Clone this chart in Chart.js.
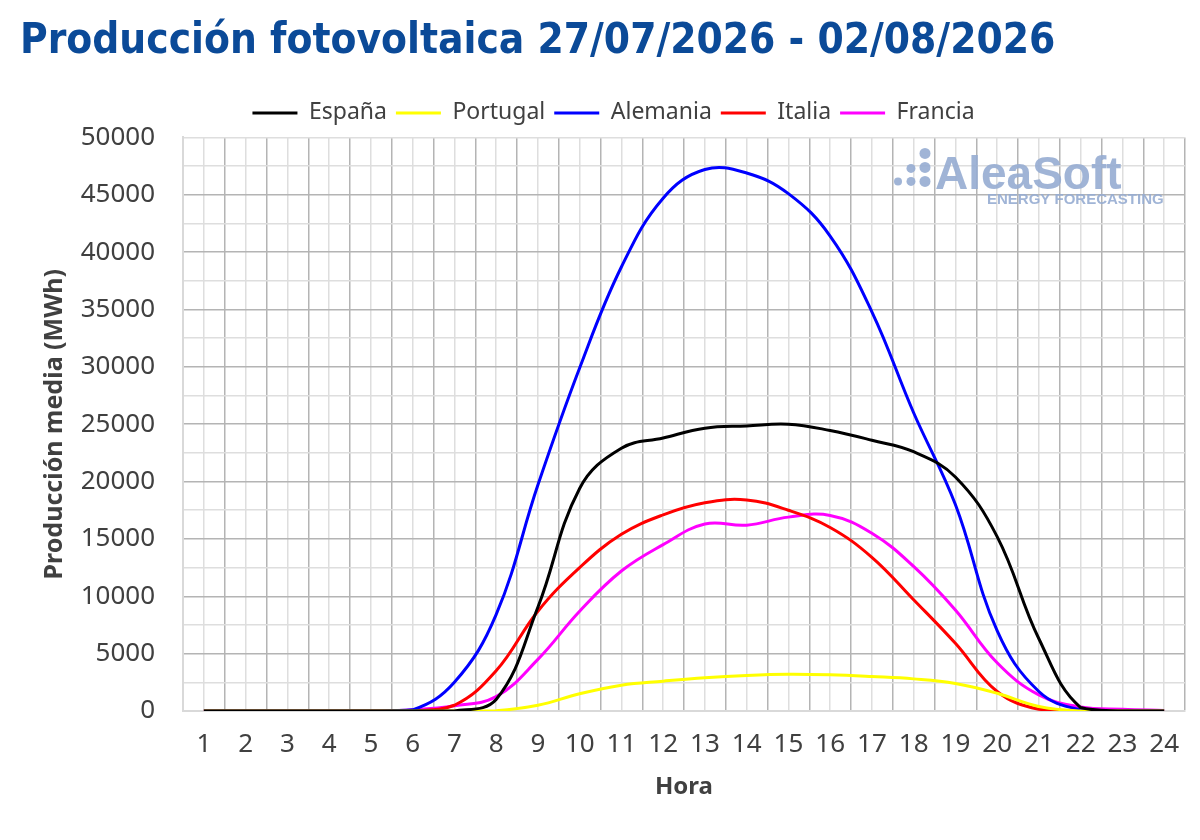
<!DOCTYPE html>
<html>
<head>
<meta charset="utf-8">
<script src="https://cdn.jsdelivr.net/npm/chart.js@4.4.1/dist/chart.umd.min.js"></script>
<style>
  html, body { margin: 0; padding: 0; background: #fff; }
  #wrap { width: 1200px; height: 840px; position: relative; }
</style>
</head>
<body>
<div id="wrap"><canvas id="myChartSolar" width="1200" height="840"></canvas></div>
<script>
const horas = [1, 2, 3, 4, 5, 6, 7, 8, 9, 10, 11, 12, 13, 14, 15, 16, 17, 18, 19, 20, 21, 22, 23, 24]

const espana = [0, 0, 0, 0, 0, 0, 0, 1000, 9050, 19400, 22900, 23800, 24650, 24850, 25000, 24450, 23600, 22600, 20400, 15200, 6300, 300, 0, 0]
const portugal = [0, 0, 0, 0, 0, 0, 0, 30, 500, 1500, 2250, 2600, 2900, 3100, 3200, 3150, 3000, 2800, 2400, 1550, 400, 0, 0, 0]
const alemania = [0, 0, 0, 0, 0, 100, 2500, 8400, 19700, 29900, 38700, 44700, 47200, 46900, 45100, 41400, 34800, 26000, 18000, 7000, 1700, 100, 0, 0]
const italia = [0, 0, 0, 0, 0, 0, 500, 3500, 8700, 12500, 15400, 17100, 18150, 18400, 17500, 16000, 13400, 9700, 5900, 1700, 150, 0, 0, 0]
const francia = [0, 0, 0, 0, 0, 100, 450, 1250, 4500, 8700, 12200, 14500, 16300, 16200, 16900, 17050, 15500, 12600, 8800, 4200, 1400, 350, 150, 50]

const yMax = 50000
const yStep = 2500

const textColor = '#404040'
const gridDark = '#b4b4b4'
const gridLight = '#dedede'
const baseFont = "'Noto Sans', sans-serif"

function serie(label, values, color) {
    return {
        label: label,
        data: horas.map((h, i) => ({ x: h, y: values[i] })),
        borderColor: color,
        backgroundColor: color,
        borderWidth: 3,
        pointRadius: 0,
        tension: 0.4,
        fill: false
    }
}

// marca de agua AleaSoft
const watermark = {
    id: 'watermark',
    beforeDatasetsDraw(chart) {
        const ctx = chart.ctx
        const a = chart.chartArea
        ctx.save()
        ctx.fillStyle = 'rgba(150,172,210,0.9)'
        const bx = a.right - 290, by = a.top
        const dots = [[3, 44, 4], [16, 44, 4.5], [16, 31, 4.5], [30, 44, 5.5], [30, 30, 5.5], [30, 16, 5.5]]
        dots.forEach(d => {
            ctx.beginPath()
            ctx.arc(bx + d[0], by + d[1], d[2], 0, Math.PI * 2)
            ctx.fill()
        })
        ctx.font = 'bold 46px "Liberation Sans", Arial, sans-serif'
        ctx.textBaseline = 'alphabetic'
        ctx.fillText('AleaSoft', bx + 40, by + 52)
        ctx.font = 'bold 15px "Liberation Sans", Arial, sans-serif'
        ctx.fillText('ENERGY FORECASTING', bx + 92, by + 67)
        ctx.restore()
    }
}

// leyenda: un poco mas de aire debajo y algo desplazada a la derecha
const legendTweak = {
    id: 'legendTweak',
    beforeInit(chart) {
        const fit = chart.legend.fit
        chart.legend.fit = function () {
            fit.bind(chart.legend)()
            this.height += 3
        }
    },
    afterLayout(chart) {
        chart.legend.left += 11
        chart.legend.right += 11
    }
}

const ctx = document.getElementById('myChartSolar')
const myChartSolar = new Chart(ctx, {
    type: 'line',
    data: {
        datasets: [
            serie('España', espana, '#000000'),
            serie('Portugal', portugal, '#ffff00'),
            serie('Alemania', alemania, '#0000ff'),
            serie('Italia', italia, '#ff0000'),
            serie('Francia', francia, '#ff00ff')
        ]
    },
    options: {
        responsive: false,
        animation: false,
        layout: { padding: { left: 20, right: 15, top: 17, bottom: 34 } },
        plugins: {
            title: {
                display: true,
                align: 'start',
                text: 'Producción fotovoltaica 27/07/2026 - 02/08/2026',
                color: '#0b4a98',
                font: { family: "'Liberation Sans Narrow', 'DejaVu Sans Condensed', sans-serif", size: 42, weight: 'bold' },
                padding: { top: 0, bottom: 25 }
            },
            legend: {
                display: true,
                labels: {
                    usePointStyle: true,
                    pointStyle: 'line',
                    pointStyleWidth: 45,
                    color: textColor,
                    padding: 9,
                    font: { family: baseFont, size: 23 }
                }
            },
            tooltip: { enabled: false }
        },
        scales: {
            x: {
                type: 'linear',
                min: 0.5,
                max: 24.5,
                afterBuildTicks: axis => {
                    axis.ticks = []
                    for (let v = 0.5; v <= 24.5; v += 0.5) axis.ticks.push({ value: v })
                },
                afterFit: axis => {
                    axis.height = 95
                    axis.paddingLeft = 0
                    axis.paddingRight = 0
                },
                ticks: {
                    autoSkip: false,
                    maxRotation: 0,
                    color: textColor,
                    padding: 18,
                    font: { family: baseFont, size: 26 },
                    callback: v => Number.isInteger(v) ? v : ''
                },
                grid: {
                    drawTicks: false,
                    color: c => Number.isInteger(c.tick.value) ? gridLight : gridDark,
                    lineWidth: 1.5
                },
                border: { color: '#d9d9d9', width: 2 },
                title: {
                    display: true,
                    text: 'Hora',
                    color: textColor,
                    font: { family: baseFont, size: 24, weight: 'bold' },
                    padding: { top: 0, bottom: 4 }
                }
            },
            y: {
                min: 0,
                max: yMax,
                afterBuildTicks: axis => {
                    axis.ticks = []
                    for (let v = 0; v <= yMax; v += yStep) axis.ticks.push({ value: v })
                },
                afterFit: axis => { axis.width = 163 },
                ticks: {
                    autoSkip: false,
                    color: textColor,
                    padding: 28,
                    font: { family: baseFont, size: 26 },
                    callback: v => v % 5000 === 0 ? v : ''
                },
                grid: {
                    drawTicks: false,
                    color: c => (c.tick.value % 5000 === 0 && c.tick.value !== 0 && c.tick.value !== yMax) ? gridDark : gridLight,
                    lineWidth: 1.5
                },
                border: { color: '#d9d9d9', width: 2 },
                title: {
                    display: true,
                    text: 'Producción media (MWh)',
                    color: textColor,
                    font: { family: baseFont, size: 25, weight: 'bold' },
                    padding: { top: 20, bottom: 0 }
                }
            }
        }
    },
    plugins: [watermark, legendTweak]
})
</script>
</body>
</html>
